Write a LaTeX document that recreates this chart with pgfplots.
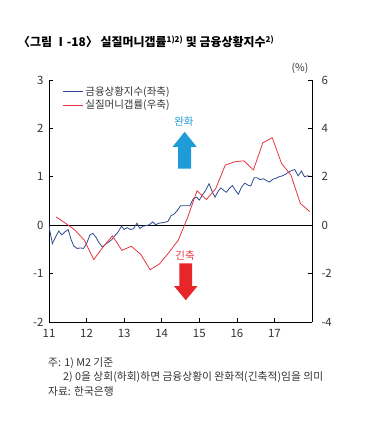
\documentclass[border=0pt]{standalone}
\usepackage{fontspec}
\setmainfont{Noto Sans CJK KR}
\usepackage{pgfplots}
\pgfplotsset{compat=1.18}
\definecolor{fcblue}{HTML}{2E4B8C}
\definecolor{gapred}{HTML}{E63540}
\definecolor{arrowblue}{HTML}{1F9BD7}
\definecolor{arrowred}{HTML}{E8262A}
\definecolor{txt}{HTML}{333333}
\begin{document}
\begin{tikzpicture}
\useasboundingbox (0,0) rectangle (380bp,431bp);
\pgfplotsset{
  common/.style={
    at={(49bp,109bp)}, anchor=south west,
    scale only axis, width=263bp, height=242bp,
    xmin=11, xmax=18,
    tick align=inside, major tick length=4bp,
    tick style={black, line width=0.6pt},
    axis line style={black, line width=0.6pt, -},
    /pgf/number format/assume math mode=true,
    ticklabel style={font=\fontsize{11.5}{13}\selectfont, text=txt},
  }
}
\begin{axis}[common,
  ymin=-2, ymax=3,
  axis x line*=bottom, axis y line*=left,
  xtick={11,12,13,14,15,16,17}, ytick={-2,-1,0,1,2,3},
  xticklabel style={yshift=-4bp},
  yticklabel style={xshift=-2bp},
  legend style={at={(0.04,0.99)}, anchor=north west, draw=none, fill=none,
    font=\fontsize{10.5}{12}\selectfont, text=txt, row sep=-1bp},
  legend cell align=left,
  legend image code/.code={\draw[#1] (0bp,0bp) -- (20bp,0bp);},
]
\draw[black, line width=0.6pt] (axis cs:11,0) -- (axis cs:18,0);
\addplot[fcblue, line width=0.8pt] coordinates {
(11.00,-0.03) (11.09,-0.38) (11.17,-0.25) (11.26,-0.12) (11.34,-0.20) (11.42,-0.14)
(11.51,-0.09) (11.59,-0.30) (11.66,-0.43) (11.75,-0.48) (11.84,-0.47) (11.92,-0.48)
(12.00,-0.38) (12.09,-0.20) (12.17,-0.17) (12.25,-0.25) (12.33,-0.36) (12.42,-0.45)
(12.50,-0.40) (12.58,-0.35) (12.67,-0.30) (12.75,-0.22) (12.84,-0.14) (12.93,-0.02)
(13.00,-0.09) (13.08,-0.05) (13.17,-0.09) (13.25,-0.07) (13.34,0.04) (13.42,-0.07)
(13.50,-0.02) (13.58,-0.01) (13.67,0.01) (13.76,0.07) (13.84,0.01) (13.92,0.04)
(14.00,0.05) (14.08,0.06) (14.17,0.08) (14.25,0.20) (14.33,0.23) (14.42,0.31)
(14.50,0.40) (14.58,0.40) (14.67,0.40) (14.75,0.40) (14.84,0.55) (14.93,0.58)
(15.00,0.52) (15.08,0.62) (15.17,0.72) (15.26,0.86) (15.35,0.68) (15.42,0.58)
(15.50,0.70) (15.57,0.77) (15.65,0.72) (15.72,0.68) (15.80,0.76) (15.88,0.82)
(15.96,0.72) (16.04,0.64) (16.12,0.78) (16.21,0.87) (16.29,0.83) (16.37,0.81)
(16.46,0.98) (16.54,0.98) (16.62,0.94) (16.71,0.96) (16.79,0.92) (16.87,0.89)
(16.96,0.95) (17.04,0.97) (17.12,1.00) (17.21,1.02) (17.29,1.05) (17.38,1.10)
(17.46,1.13) (17.54,1.15) (17.63,1.02) (17.72,1.12) (17.80,1.00) (17.88,1.02)
(17.96,1.01)
};
\addlegendentry{금융상황지수(좌축)}
\addlegendimage{gapred, line width=0.8pt}
\addlegendentry{실질머니갭률(우축)}
% arrows
\fill[arrowblue] (axis cs:14.44,1.17) -- (axis cs:14.44,1.62) -- (axis cs:14.29,1.62)
  -- (axis cs:14.61,1.93) -- (axis cs:14.93,1.62) -- (axis cs:14.78,1.62)
  -- (axis cs:14.78,1.17) -- cycle;
\node[text=arrowblue, font=\fontsize{10.5}{12}\selectfont] at (axis cs:14.59,2.15) {완화};
\fill[arrowred] (axis cs:14.47,-0.79) -- (axis cs:14.47,-1.26) -- (axis cs:14.33,-1.26)
  -- (axis cs:14.64,-1.55) -- (axis cs:14.95,-1.26) -- (axis cs:14.81,-1.26)
  -- (axis cs:14.81,-0.79) -- cycle;
\node[text=gapred, font=\fontsize{10.5}{12}\selectfont] at (axis cs:14.62,-0.63) {긴축};
\end{axis}
\begin{axis}[common,
  ymin=-4, ymax=6,
  axis x line=none, axis y line*=right,
  ytick={-4,-2,0,2,4,6},
  yticklabel style={xshift=6bp},
]
\addplot[gapred, line width=0.8pt] coordinates {
(11.19,0.34) (11.44,0.08) (11.69,-0.20) (11.94,-0.62) (12.19,-1.42) (12.44,-0.90)
(12.69,-0.44) (12.94,-1.04) (13.19,-0.87) (13.44,-1.20) (13.69,-1.84) (13.94,-1.60)
(14.19,-1.13) (14.44,-0.62) (14.69,0.32) (14.94,1.42) (15.19,1.06) (15.44,1.52)
(15.69,2.48) (15.94,2.62) (16.19,2.66) (16.44,2.28) (16.69,3.40) (16.94,3.62)
(17.19,2.55) (17.44,2.07) (17.69,0.90) (17.94,0.56)
};
\end{axis}
\node[anchor=center, text=txt, font=\fontsize{10.5}{12}\selectfont] at (300bp,363bp) {(\%)};
\node[anchor=west, inner sep=0pt, text=black, font=\fontsize{12}{14}\selectfont\bfseries] at (18bp,389bp)
  {〈그림 Ⅰ-18〉 실질머니갭률\textsuperscript{1)2)} 및 금융상황지수\textsuperscript{2)}};
\node[anchor=west, inner sep=0pt, text=txt, font=\fontsize{10.8}{12}\selectfont] at (48bp,68bp) {주: 1) M2 기준};
\node[anchor=west, inner sep=0pt, text=txt, font=\fontsize{10.8}{12}\selectfont] at (63bp,54bp) {2) 0을 상회(하회)하면 금융상황이 완화적(긴축적)임을 의미};
\node[anchor=west, inner sep=0pt, text=txt, font=\fontsize{10.8}{12}\selectfont] at (48bp,40bp) {자료: 한국은행};
\end{tikzpicture}
\end{document}
